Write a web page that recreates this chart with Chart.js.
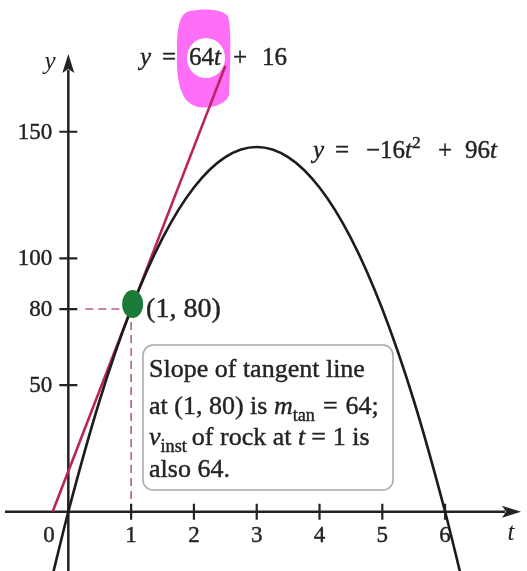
<!DOCTYPE html>
<html>
<head>
<meta charset="utf-8">
<script src="https://cdn.jsdelivr.net/npm/chart.js@4.4.1/dist/chart.umd.min.js"></script>
<style>
  html, body { margin: 0; padding: 0; background: #fff; }
  canvas { display: block; }
</style>
</head>
<body>
<canvas id="chart" width="527" height="571"></canvas>
<script>
// values
const tickT = [1, 2, 3, 4, 5, 6];
const tickY = [50, 80, 100, 150];
const curveT = [-0.25, 0, 0.5, 1, 1.5, 2, 2.5, 3, 3.5, 4, 4.5, 5, 5.5, 6, 6.25];
const curveY = [-25, 0, 44, 80, 108, 128, 140, 144, 140, 128, 108, 80, 44, 0, -25];
const tangentT = [-0.25, 2.5];
const tangentY = [0, 176];
const pointT = 1;
const pointY = 80;

const ink = '#232323';
const serif = '"Liberation Serif", "Times New Roman", serif';

// parts: number = gap, {jump: px} = move to x, [text, style] with style i=italic b=subscript p=superscript
function rich(ctx, x, y, size, parts) {
    for (const p of parts) {
        if (typeof p === 'number') { x += p; continue; }
        if (!Array.isArray(p)) { x = p.jump; continue; }
        const s = p[0], st = p[1] || '';
        const small = st.includes('b') || st.includes('p');
        const fs = small ? size * 0.7 : size;
        ctx.font = (st.includes('i') ? 'italic ' : '') + fs + 'px ' + serif;
        const dy = st.includes('b') ? size * 0.27 : (st.includes('p') ? -size * 0.42 : 0);
        ctx.fillText(s, x, y + dy);
        ctx.strokeText(s, x, y + dy);
        x += ctx.measureText(s).width;
    }
}

const sketch = {
    id: 'sketch',
    beforeDatasetsDraw(chart) {
        const ctx = chart.ctx;
        const xs = chart.scales.x, ys = chart.scales.y;
        const x0 = xs.getPixelForValue(0), y0 = ys.getPixelForValue(0);
        const H = chart.height;
        ctx.save();

        // highlighter blob around "64t"
        ctx.fillStyle = '#ff6ef7';
        ctx.beginPath();
        ctx.moveTo(190, 11);
        ctx.bezierCurveTo(205, 8, 222, 9, 228, 16);
        ctx.bezierCurveTo(232, 30, 230, 70, 229, 95);
        ctx.bezierCurveTo(226, 106, 205, 110, 195, 106);
        ctx.bezierCurveTo(180, 100, 176, 80, 177, 50);
        ctx.bezierCurveTo(177, 25, 180, 13, 190, 11);
        ctx.fill();
        ctx.fillStyle = '#fff';
        ctx.beginPath();
        ctx.ellipse(206, 58, 19, 20, 0, 0, Math.PI * 2);
        ctx.fill();

        // dashed guides to (1, 80)
        const px = xs.getPixelForValue(pointT), py = ys.getPixelForValue(pointY);
        ctx.strokeStyle = '#b35c8c';
        ctx.lineWidth = 1.6;
        ctx.setLineDash([8, 5]);
        ctx.beginPath();
        ctx.moveTo(x0 + 17, py); ctx.lineTo(px, py);
        ctx.moveTo(px, py); ctx.lineTo(px, y0);
        ctx.stroke();
        ctx.setLineDash([]);

        // axes
        ctx.strokeStyle = ink;
        ctx.fillStyle = ink;
        ctx.lineWidth = 2.5;
        ctx.beginPath();
        ctx.moveTo(5, y0); ctx.lineTo(505, y0);
        ctx.moveTo(x0, H); ctx.lineTo(x0, 70);
        ctx.stroke();
        ctx.beginPath();
        ctx.moveTo(521, y0); ctx.lineTo(502, y0 - 6); ctx.lineTo(506, y0); ctx.lineTo(502, y0 + 6); ctx.closePath();
        ctx.fill();
        ctx.beginPath();
        ctx.moveTo(x0, 54); ctx.lineTo(x0 - 6, 73); ctx.lineTo(x0, 69); ctx.lineTo(x0 + 6, 73); ctx.closePath();
        ctx.fill();

        ctx.lineWidth = 2.2;
        ctx.beginPath();
        tickT.forEach(t => {
            const tx = xs.getPixelForValue(t);
            ctx.moveTo(tx, y0 - 8); ctx.lineTo(tx, y0 + 8);
        });
        tickY.forEach(v => {
            const ty = ys.getPixelForValue(v);
            ctx.moveTo(x0 - 9, ty); ctx.lineTo(x0 + 9, ty);
        });
        ctx.stroke();

        ctx.lineWidth = 0.4;
        ctx.font = '23px ' + serif;
        ctx.textAlign = 'center';
        ctx.textBaseline = 'alphabetic';
        tickT.forEach(t => {
            ctx.fillText(String(t), xs.getPixelForValue(t), y0 + 30);
            ctx.strokeText(String(t), xs.getPixelForValue(t), y0 + 30);
        });
        ctx.fillText('0', 49, y0 + 30);
        ctx.strokeText('0', 49, y0 + 30);
        ctx.textAlign = 'right';
        ctx.textBaseline = 'middle';
        tickY.forEach(v => {
            ctx.fillText(String(v), x0 - 16, ys.getPixelForValue(v) + 1);
            ctx.strokeText(String(v), x0 - 16, ys.getPixelForValue(v) + 1);
        });
        ctx.font = 'italic 25px ' + serif;
        ctx.textAlign = 'center';
        ctx.fillText('y', 50, 62);
        ctx.fillText('t', 511, y0 + 22);
        ctx.restore();
    },
    afterDatasetsDraw(chart) {
        const ctx = chart.ctx;
        const xs = chart.scales.x, ys = chart.scales.y;
        const px = xs.getPixelForValue(pointT), py = ys.getPixelForValue(pointY);
        ctx.save();

        // green marker on the point
        ctx.fillStyle = '#1b7a37';
        ctx.beginPath();
        ctx.ellipse(px + 1.5, py - 5, 10.5, 14, 0, 0, Math.PI * 2);
        ctx.fill();

        ctx.fillStyle = ink;
        ctx.strokeStyle = ink;
        ctx.lineWidth = 0.4;
        ctx.textAlign = 'left';
        ctx.textBaseline = 'alphabetic';
        rich(ctx, 140, 65, 25, [['y', 'i'], { jump: 162 }, ['='], { jump: 189 }, ['64'], ['t', 'i'], { jump: 233 }, ['+'], { jump: 262 }, ['16']]);
        rich(ctx, 313, 158, 25, [['y', 'i'], { jump: 335 }, ['='], { jump: 366 }, ['\u221216'], ['t', 'i'], ['2', 'p'], { jump: 438 }, ['+'], { jump: 465 }, ['96'], ['t', 'i']]);
        rich(ctx, px + 15, py + 8, 28, [['(1, 80)']]);

        // note box
        ctx.beginPath();
        ctx.roundRect(143, 345, 250, 145, 10);
        ctx.fillStyle = '#fff';
        ctx.fill();
        ctx.strokeStyle = '#a8a8a8';
        ctx.lineWidth = 1.5;
        ctx.stroke();
        ctx.fillStyle = ink;
        ctx.strokeStyle = ink;
        ctx.lineWidth = 0.4;
        rich(ctx, 149, 377, 26, [['Slope of tangent line']]);
        rich(ctx, 149, 414, 26, [['at (1, 80) is '], ['m', 'i'], ['tan', 'b'], 8, ['='], 8, ['64;']]);
        rich(ctx, 149, 445, 26, [['v', 'i'], ['inst', 'b'], 5, ['of rock at '], ['t', 'i'], 6, ['='], 7, ['1 is']]);
        rich(ctx, 149, 477, 26, [['also 64.']]);
        ctx.restore();
    }
};

const toPoints = (xv, yv) => xv.map((v, i) => ({ x: v, y: yv[i] }));

new Chart(document.getElementById('chart'), {
    type: 'scatter',
    data: {
        datasets: [{
            label: 'y = -16t^2 + 96t',
            data: toPoints(curveT, curveY),
            showLine: true,
            borderColor: '#1c1c1c',
            borderWidth: 2.6,
            pointRadius: 0,
            cubicInterpolationMode: 'monotone'
        }, {
            label: 'y = 64t + 16',
            data: toPoints(tangentT, tangentY),
            showLine: true,
            borderColor: '#b8245e',
            borderWidth: 2.6,
            pointRadius: 0
        }]
    },
    options: {
        responsive: false,
        animation: false,
        layout: { padding: 0 },
        scales: {
            x: { type: 'linear', display: false, min: -1.088, max: 7.304 },
            y: { type: 'linear', display: false, min: -23.4, max: 202 }
        },
        plugins: {
            legend: { display: false },
            tooltip: { enabled: false }
        }
    },
    plugins: [sketch]
});
</script>
</body>
</html>
